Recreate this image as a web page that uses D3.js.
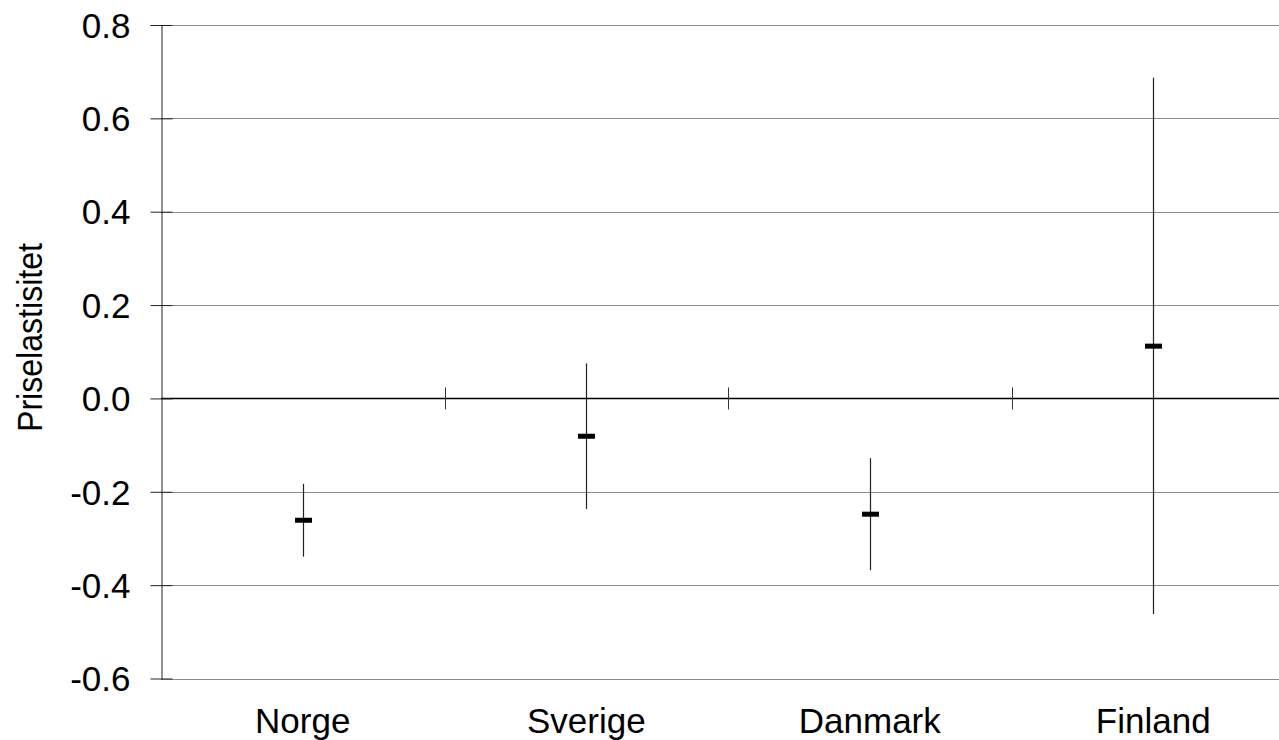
<!DOCTYPE html>
<html>
<head>
<meta charset="utf-8">
<script src="https://cdn.jsdelivr.net/npm/d3@7"></script>
<style>
  html, body { margin: 0; padding: 0; background: #fff; }
  text { font-family: Arial, "Liberation Sans", sans-serif; fill: #000; }
</style>
</head>
<body>
<svg id="chart" width="1279" height="740"></svg>
<script>
const categories = ["Norge", "Sverige", "Danmark", "Finland"];
const meanValues = [-0.261, -0.081, -0.248, 0.112];
const upperValues = [-0.183, 0.075, -0.128, 0.687];
const lowerValues = [-0.339, -0.237, -0.368, -0.462];
const yTicks = [-0.6, -0.4, -0.2, 0.0, 0.2, 0.4, 0.6, 0.8];
const yTitle = "Priselastisitet";

(function () {
const svg = d3.select("#chart");
const mLeft = 161, mRight = 1295, mTop = 25, mBottom = 678.5;

const x = d3.scaleBand().domain(categories).range([mLeft, mRight]).padding(0);
const y = d3.scaleLinear().domain([-0.6, 0.8]).range([mBottom, mTop]);

// gridlines
svg.append("g").selectAll("line").data(yTicks.filter(d => d !== 0)).join("line")
  .attr("x1", mLeft).attr("x2", 1279)
  .attr("y1", d => Math.round(y(d)) + 0.5).attr("y2", d => Math.round(y(d)) + 0.5)
  .attr("stroke", "#8c8c8c").attr("stroke-width", 1);

// zero line
svg.append("line")
  .attr("x1", mLeft).attr("x2", 1279)
  .attr("y1", Math.round(y(0)) + 0.5).attr("y2", Math.round(y(0)) + 0.5)
  .attr("stroke", "#000").attr("stroke-width", 1.3);

// category separator ticks on zero line
const seps = categories.slice(1).map(c => x(c));
svg.append("g").selectAll("line").data(seps).join("line")
  .attr("x1", d => Math.round(d) + 0.5).attr("x2", d => Math.round(d) + 0.5)
  .attr("y1", y(0) - 11).attr("y2", y(0) + 11)
  .attr("stroke", "#333").attr("stroke-width", 1);

// y axis
const yAxis = d3.axisLeft(y).tickValues(yTicks).tickFormat(d => d.toFixed(1)).tickSize(0).tickPadding(0);
const gy = svg.append("g").attr("transform", `translate(${mLeft + 0.5},0)`).call(yAxis);
gy.select(".domain").attr("stroke", "#222").attr("stroke-width", 1);
gy.selectAll(".tick text").attr("x", -31).attr("dy", "0.35em")
  .style("font-size", "35px").style("font-family", "Arial, 'Liberation Sans', sans-serif").attr("fill", "#000");
gy.selectAll(".tick").append("line")
  .attr("x1", -11).attr("x2", 11).attr("stroke", "#222").attr("stroke-width", 1);

// x labels
const xAxis = d3.axisBottom(x).tickSize(0).tickPadding(0);
const gx = svg.append("g").attr("transform", `translate(0,${mBottom})`).call(xAxis);
gx.select(".domain").remove();
gx.selectAll(".tick text").attr("y", 54).attr("dy", 0)
  .style("font-size", "35px").style("font-family", "Arial, 'Liberation Sans', sans-serif").attr("fill", "#000");

// y title
svg.append("text")
  .attr("transform", "translate(42,337.5) rotate(-90)")
  .attr("text-anchor", "middle")
  .attr("textLength", 189)
  .attr("lengthAdjust", "spacingAndGlyphs")
  .style("font-size", "35px")
  .text(yTitle);

// whiskers and means
const data = categories.map((c, i) => ({ c, m: meanValues[i], hi: upperValues[i], lo: lowerValues[i] }));
const cx = d => Math.round(x(d.c) + x.bandwidth() / 2) + 0.5;
svg.append("g").selectAll("line").data(data).join("line")
  .attr("x1", cx).attr("x2", cx)
  .attr("y1", d => y(d.hi)).attr("y2", d => y(d.lo))
  .attr("stroke", "#222").attr("stroke-width", 1.2);
svg.append("g").selectAll("rect").data(data).join("rect")
  .attr("x", d => cx(d) - 8.5).attr("width", 17)
  .attr("y", d => y(d.m) - 2.5).attr("height", 5)
  .attr("fill", "#000");
})();
</script>
</body>
</html>
